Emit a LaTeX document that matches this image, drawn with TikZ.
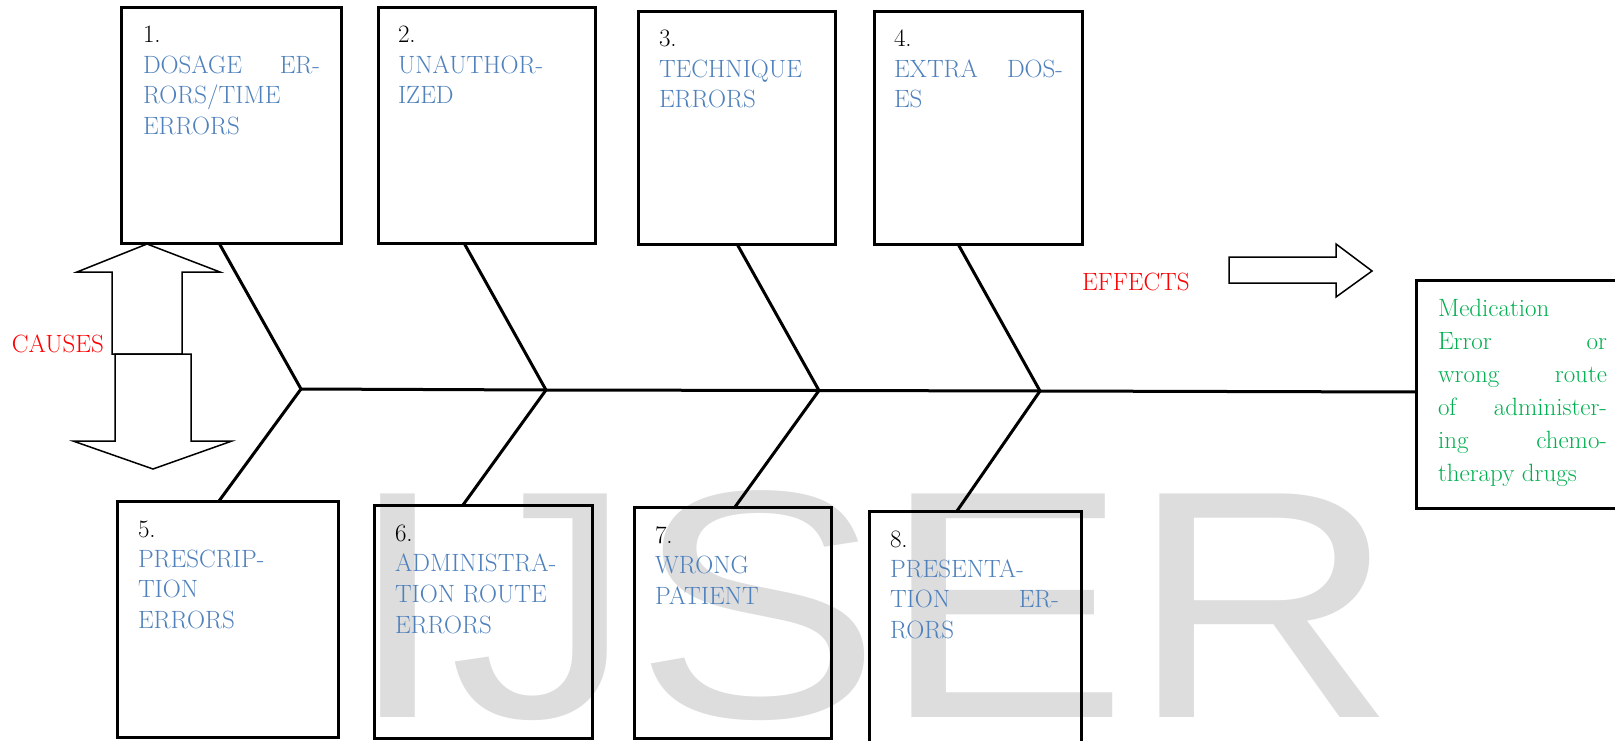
\documentclass[tikz,border=0pt]{standalone}
\usepackage{fontspec}
\newfontfamily\wmfont{Liberation Sans}
\usetikzlibrary{calc}
\definecolor{txtblue}{RGB}{79,129,189}
\definecolor{resgreen}{RGB}{0,176,80}
\definecolor{labred}{RGB}{255,0,0}
\definecolor{wmgray}{RGB}{221,221,221}
\newcommand\bodyfont{\fontsize{25}{30}\selectfont}
\begin{document}
\begin{tikzpicture}[x=1pt,y=-1pt,
  box/.style={draw, line width=3pt, inner sep=0pt, outer sep=0pt, anchor=north west},
  bone/.style={line width=3pt},
  lbl/.style={anchor=base west, inner sep=0pt, outer sep=0pt, font=\bodyfont, text=txtblue},
  num/.style={lbl, text=black},
  res/.style={lbl, text=resgreen},
  redlbl/.style={lbl, text=labred},
  fatarrow/.style={draw, fill=white, line width=1.5pt, line join=miter},
  wm/.style={anchor=base west, inner sep=0pt, outer sep=0pt, text=wmgray, font=\wmfont\fontsize{325}{325}\selectfont}]
\useasboundingbox (0,0) rectangle (1615,741);
\fill[white] (0,0) rectangle (1615,741);
% watermark
\node[wm, xscale=1.14] (wmark) at (346.6,717) {IJSER};
% causes label and arrows
\node[redlbl] (causes) at (12,352) {CAUSES};
\draw[fatarrow] (147,244) -- (220,272) -- (182,272) -- (182,354) -- (112,354) -- (112,272) -- (77,272) -- cycle;
\draw[fatarrow] (115,354) -- (191,354) -- (191,441) -- (232,441) -- (153,469) -- (73,441) -- (115,441) -- cycle;
% effects label and arrow
\node[redlbl] (effects) at (1082,290) {EFFECTS};
\draw[fatarrow] (1229,257) -- (1336,257) -- (1336,244) -- (1372,271) -- (1336,297) -- (1336,283) -- (1229,283) -- cycle;
% boxes
\node[box, minimum width=220pt, minimum height=235pt] (b1) at (121,8) {};
\node[box, minimum width=217pt, minimum height=235pt] (b2) at (378,8) {};
\node[box, minimum width=197pt, minimum height=232pt] (b3) at (638,12) {};
\node[box, minimum width=208pt, minimum height=232pt] (b4) at (874,12) {};
\node[box, minimum width=221pt, minimum height=236pt] (b5) at (117,501) {};
\node[box, minimum width=218pt, minimum height=233pt] (b6) at (374,505) {};
\node[box, minimum width=197pt, minimum height=231pt] (b7) at (634,507) {};
\node[box, minimum width=212pt, minimum height=260pt] (b8) at (869,511) {};
\node[box, minimum width=220pt, minimum height=228pt] (eff) at (1416,280) {};
% spine
\coordinate (j1) at (301,389);
\coordinate (j2) at (546,390);
\coordinate (j3) at (819,390.5);
\coordinate (j4) at (1040,391);
\draw[bone] (j1) -- (j2) -- (j3) -- (j4) -- ([yshift=2pt]eff.west);
% bones
\draw[bone] ([xshift=98pt]b1.south west) -- (j1);
\draw[bone] ([xshift=86pt]b2.south west) -- (j2);
\draw[bone] ([xshift=99pt]b3.south west) -- (j3);
\draw[bone] ([xshift=84pt]b4.south west) -- (j4);
\draw[bone] (j1) -- ([xshift=102pt]b5.north west);
\draw[bone] (j2) -- ([xshift=89pt]b6.north west);
\draw[bone] (j3) -- ([xshift=101pt]b7.north west);
\draw[bone] (j4) -- ([xshift=88pt]b8.north west);
% box 1
\node[num] (n1) at (143,43) {1.};
\node[lbl] (t1a) at (143,74) {\hbox to 177pt{DOSAGE\hfill ER-}};
\node[lbl] (t1b) at (143,104) {RORS/TIME};
\node[lbl] (t1c) at (143,135) {ERRORS};
% box 2
\node[num] (n2) at (398,43) {2.};
\node[lbl] (t2a) at (398,74) {UNAUTHOR-};
\node[lbl] (t2b) at (398,104) {IZED};
% box 3
\node[num] (n3) at (659,47) {3.};
\node[lbl] (t3a) at (659,78) {TECHNIQUE};
\node[lbl] (t3b) at (659,108) {ERRORS};
% box 4
\node[num] (n4) at (894,47) {4.};
\node[lbl] (t4a) at (894,78) {\hbox to 169pt{EXTRA\hfill DOS-}};
\node[lbl] (t4b) at (894,108) {ES};
% box 5
\node[num] (n5) at (138,537) {5.};
\node[lbl] (t5a) at (138,567) {PRESCRIP-};
\node[lbl] (t5b) at (138,597) {TION};
\node[lbl] (t5c) at (138,628) {ERRORS};
% box 6
\node[num] (n6) at (395,541) {6.};
\node[lbl] (t6a) at (395,571) {ADMINISTRA-};
\node[lbl] (t6b) at (395,602) {TION ROUTE};
\node[lbl] (t6c) at (395,633) {ERRORS};
% box 7
\node[num] (n7) at (655,543) {7.};
\node[lbl] (t7a) at (655,573) {WRONG};
\node[lbl] (t7b) at (655,604) {PATIENT};
% box 8
\node[num] (n8) at (890,547) {8.};
\node[lbl] (t8a) at (890,577) {PRESENTA-};
\node[lbl] (t8b) at (890,607) {\hbox to 169pt{TION\hfill ER-}};
\node[lbl] (t8c) at (890,638) {RORS};
% effect box text
\node[res] (r1) at (1438,316) {Medication};
\node[res] (r2) at (1438,349) {\hbox to 169pt{Error\hfill or}};
\node[res] (r3) at (1438,382) {\hbox to 169pt{wrong\hfill route}};
\node[res] (r4) at (1438,415) {\hbox to 169pt{of\hfill administer-}};
\node[res] (r5) at (1438,448) {\hbox to 169pt{ing\hfill chemo-}};
\node[res] (r6) at (1438,481) {therapy drugs};
\end{tikzpicture}
\end{document}
